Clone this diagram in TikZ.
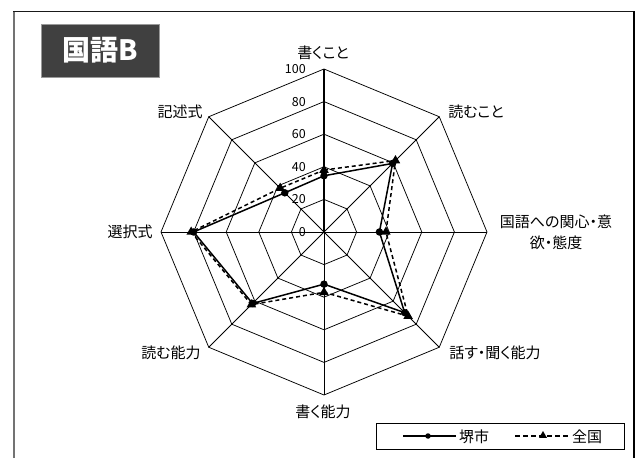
\documentclass[tikz,border=0pt]{standalone}
\usepackage{fontspec}
\setmainfont{Noto Sans CJK JP}[RawFeature=+palt]
\usetikzlibrary{shapes.geometric}
\definecolor{titlebg}{HTML}{404040}
\begin{document}
\begin{tikzpicture}[x=1pt,y=1pt,
  axlab/.style={font=\fontsize{15}{21}\selectfont, inner sep=0pt, align=center},
  ticklab/.style={font=\fontsize{12.5}{13}\selectfont, anchor=east, inner sep=0pt},
  gridline/.style={line width=0.75pt, black},
  valaxis/.style={line width=1.5pt, black},
  citysty/.style={line width=1.5pt, black, line join=round},
  natsty/.style={line width=1.5pt, black, dash pattern=on 4pt off 3pt},
  citymark/.style={circle, fill=black, inner sep=0pt, minimum size=7.5pt},
  natmark/.style={regular polygon, regular polygon sides=3, fill=black, inner sep=0pt, minimum size=11pt},
  citymarksmall/.style={circle, fill=black, inner sep=0pt, minimum size=5.5pt},
  natmarksmall/.style={regular polygon, regular polygon sides=3, fill=black, inner sep=0pt, minimum size=9pt},
  legtext/.style={font=\fontsize{15}{16}\selectfont, inner sep=0pt}
]
\useasboundingbox (0,0) rectangle (640,458);
\fill[white] (0,0) rectangle (640,458);
% outer frame
\draw[line width=2pt, black!55] (14,0) -- (14,446.5);
\draw[line width=1.5pt, black!90] (13,446.5) -- (635,446.5);
\draw[line width=2pt, black] (634,446.5) -- (634,0);
% title
\node[fill=titlebg, draw=black!40, line width=0.8pt, minimum width=118pt, minimum height=53pt,
      inner sep=0pt, text=white, font=\fontsize{28}{30}\selectfont\bfseries] (title) at (100,407.5) {国語B};

\begin{scope}[shift={(324,226)}]
  \coordinate (O) at (0,0);
  % grid rings
  \foreach \k in {1,...,5}{
    \draw[gridline] (0:32.6*\k) \foreach \a in {45,90,...,315}{ -- (\a:32.6*\k)} -- cycle;
  }
  % spokes
  \foreach \a in {0,45,...,315}{
    \coordinate (v\a) at (\a:163);
    \draw[gridline] (O) -- (v\a);
  }
  \draw[valaxis] (O) -- (v90);
  % tick labels
  \foreach \k/\t in {0/0,1/20,2/40,3/60,4/80,5/100}{
    \node[ticklab] (tick\k) at (-18,32.6*\k) {\t};
  }
  % axis labels
  \node[axlab] (l1) at (-1,179) {書くこと};
  \node[axlab] (l2) at (152,120) {読むこと};
  \node[axlab] (l3) at (232,-0.5) {国語への関心・意\\欲・態度};
  \node[axlab] (l4) at (171,-121) {話す・聞く能力};
  \node[axlab] (l5) at (-1,-180) {書く能力};
  \node[axlab] (l6) at (-153,-121) {読む能力};
  \node[axlab] (l7) at (-194,0) {選択式};
  \node[axlab] (l8) at (-144,120) {記述式};
  % data points
  \foreach \i/\a/\s/\d in {1/90/34.5/38, 2/45/59.5/62, 3/0/34/38, 4/-45/70/73,
                           5/-90/32/37, 6/-135/62/63, 7/180/80/81.5, 8/135/34/38}{
    \coordinate (s\i) at (\a:1.63*\s);
    \coordinate (d\i) at (\a:1.63*\d);
  }
  \draw[natsty] (d1) -- (d2) -- (d3) -- (d4) -- (d5) -- (d6) -- (d7) -- (d8) -- cycle;
  \draw[citysty] (s1) -- (s2) -- (s3) -- (s4) -- (s5) -- (s6) -- (s7) -- (s8) -- cycle;
  \foreach \i in {1,...,8}{
    \node[natmark] (dm\i) at (d\i) {};
    \node[citymark] (sm\i) at (s\i) {};
  }
\end{scope}

% legend
\node[draw=black, line width=1pt, minimum width=248pt, minimum height=25pt, inner sep=0pt] (legend) at (500,21.5) {};
\coordinate (ca) at (403,22);
\coordinate (cb) at (456,22);
\draw[line width=1.2pt] (ca) -- (cb);
\node[citymarksmall] (cm) at (428,22) {};
\node[legtext] (ct) at (474,21.5) {堺市};
\coordinate (na) at (515,22);
\coordinate (nb) at (569,22);
\draw[line width=1.2pt, dash pattern=on 5pt off 3pt] (na) -- (nb);
\node[natmarksmall] (nm) at (543,22.5) {};
\node[legtext] (nt) at (587,21.5) {全国};
\end{tikzpicture}
\end{document}
